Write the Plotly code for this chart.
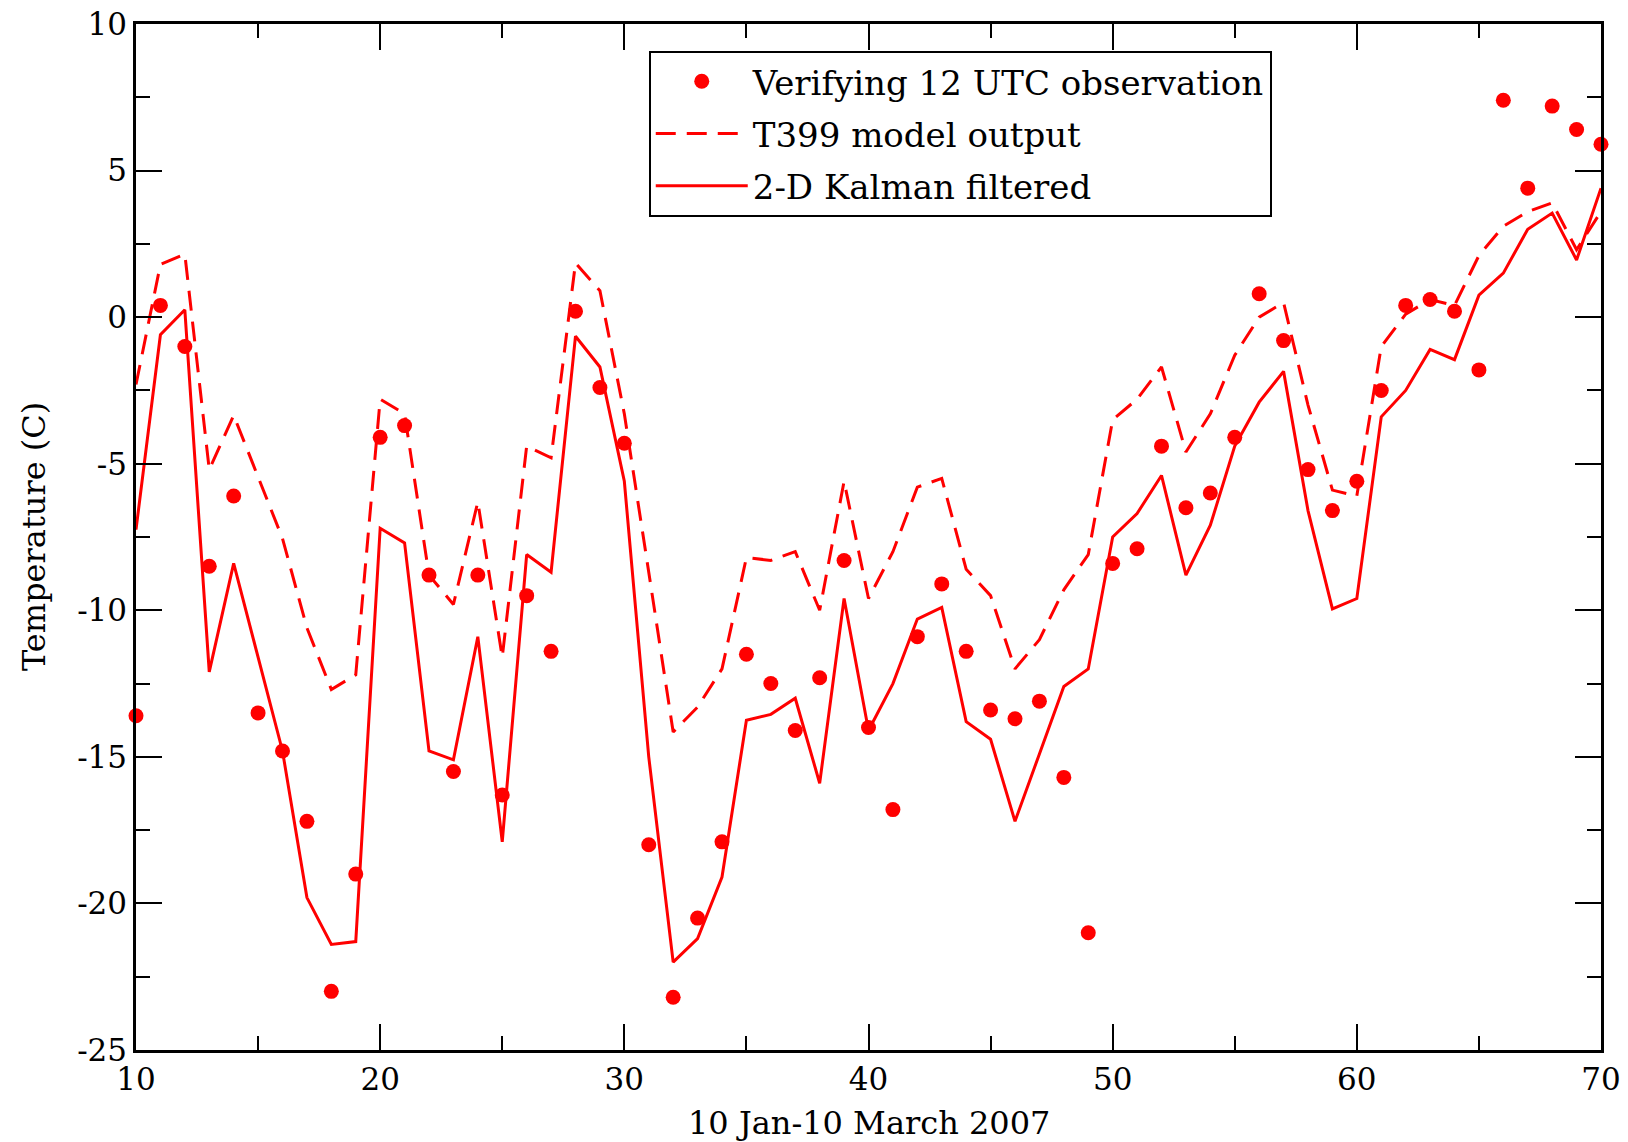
import plotly.graph_objects as go

days = list(range(10, 71))

observed = [-13.6, 0.4, -1.0, -8.5, -6.1, -13.5, -14.8, -17.2, -23.0, -19.0,
            -4.1, -3.7, -8.8, -15.5, -8.8, -16.3, -9.5, -11.4, 0.2, -2.4,
            -4.3, -18.0, -23.2, -20.5, -17.9, -11.5, -12.5, -14.1, -12.3, -8.3,
            -14.0, -16.8, -10.9, -9.1, -11.4, -13.4, -13.7, -13.1, -15.7, -21.0,
            -8.4, -7.9, -4.4, -6.5, -6.0, -4.1, 0.8, -0.8, -5.2, -6.6,
            -5.6, -2.5, 0.4, 0.6, 0.2, -1.8, 7.4, 4.4, 7.2, 6.4, 5.9]

t399_model = [-2.3, 1.8, 2.15, -5.2, -3.35, -5.45, -7.55, -10.6, -12.7, -12.2,
              -2.8, -3.3, -8.8, -9.8, -6.3, -11.6, -4.4, -4.8, 1.85, 0.9,
              -3.3, -8.7, -14.15, -13.3, -12.0, -8.2, -8.3, -8.0, -10.0, -5.6,
              -9.6, -8.0, -5.8, -5.5, -8.6, -9.5, -12.0, -11.0, -9.3, -8.1,
              -3.5, -2.8, -1.7, -4.6, -3.3, -1.3, 0.0, 0.5, -3.0, -5.9,
              -6.1, -1.0, 0.1, 0.6, 0.4, 2.1, 3.1, 3.6, 3.9, 2.3, 3.6]

kalman_2d = [-7.25, -0.6, 0.25, -12.1, -8.4, -11.6, -14.8, -19.8, -21.4, -21.3,
             -7.2, -7.7, -14.8, -15.1, -10.9, -17.9, -8.1, -8.7, -0.65, -1.7,
             -5.6, -15.0, -22.0, -21.2, -19.1, -13.75, -13.55, -13.0, -15.9, -9.6,
             -14.1, -12.5, -10.3, -9.9, -13.8, -14.4, -17.2, -14.9, -12.6, -12.0,
             -7.5, -6.7, -5.4, -8.8, -7.1, -4.4, -2.9, -1.85, -6.6, -9.95,
             -9.6, -3.4, -2.5, -1.1, -1.45, 0.75, 1.5, 3.0, 3.55, 1.95, 4.4]

legend_names = ["Verifying 12 UTC observation", "T399 model output", "2-D Kalman filtered"]
x_title = "10 Jan-10 March 2007"
y_title = "Temperature (C)"

x_tick_vals = [10, 20, 30, 40, 50, 60, 70]
x_tick_text = ["10", "20", "30", "40", "50", "60", "70"]
y_tick_vals = [-25, -20, -15, -10, -5, 0, 5, 10]
y_tick_text = ["-25", "-20", "-15", "-10", "-5", "0", "5", "10"]

RED = "#ff0000"
FONT = "DejaVu Serif"

fig = go.Figure()
fig.add_trace(go.Scatter(
    x=days, y=observed, mode="markers", name=legend_names[0],
    marker=dict(color=RED, size=15), cliponaxis=False, legendgroup="a"))
fig.add_trace(go.Scatter(
    x=days, y=t399_model, mode="lines", name=legend_names[1],
    line=dict(color=RED, width=3, dash="20px,11px"), legendgroup="b"))
fig.add_trace(go.Scatter(
    x=days, y=kalman_2d, mode="lines", name=legend_names[2],
    line=dict(color=RED, width=3), legendgroup="c"))

axis_common = dict(
    showgrid=False, zeroline=False, showline=True, linecolor="black", linewidth=2.5,
    mirror="ticks", ticks="inside", tickcolor="black", tickwidth=2, ticklen=26,
    tickfont=dict(family=FONT, size=31, color="black"), automargin=False,
)

fig.update_xaxes(
    range=[10, 70], tickmode="array", tickvals=x_tick_vals, ticktext=x_tick_text,
    minor=dict(ticks="inside", ticklen=14, tickwidth=2, tickcolor="black", dtick=5, tick0=10),
    **axis_common)
fig.update_yaxes(
    range=[-25, 10], tickmode="array", tickvals=y_tick_vals, ticktext=y_tick_text,
    minor=dict(ticks="inside", ticklen=14, tickwidth=2, tickcolor="black", dtick=2.5, tick0=-25),
    **axis_common)

fig.add_annotation(
    text=x_title, xref="paper", yref="paper", x=0.5, y=0, xanchor="center", yanchor="middle",
    yshift=-73, showarrow=False, font=dict(family=FONT, size=32, color="black"))
fig.add_annotation(
    text=y_title, xref="paper", yref="paper", x=0, y=0.5, xanchor="center", yanchor="middle",
    xshift=-102, textangle=-90, showarrow=False, font=dict(family=FONT, size=32, color="black"))

fig.update_layout(
    width=1628, height=1142,
    margin=dict(l=136, r=27, t=24, b=92),
    paper_bgcolor="white", plot_bgcolor="white",
    showlegend=True,
    legend=dict(
        x=0.350, y=0.974, xanchor="left", yanchor="top",
        bgcolor="white", bordercolor="black", borderwidth=2,
        font=dict(family=FONT, size=34, color="black"),
        itemwidth=92, tracegroupgap=5, traceorder="grouped",
    ),
)

fig.write_html("out.html")
